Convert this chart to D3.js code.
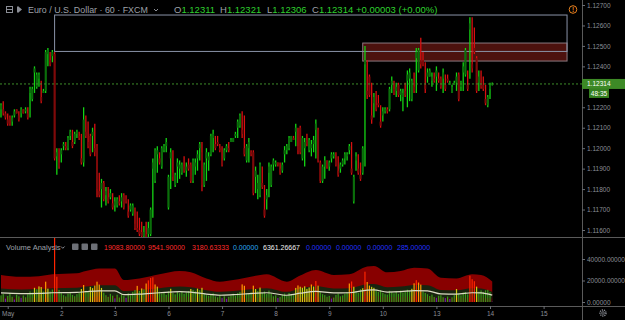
<!DOCTYPE html>
<html>
<head>
<meta charset="utf-8">
<script src="https://cdn.jsdelivr.net/npm/d3@7"></script>
<style>
html, body { margin: 0; padding: 0; background: #000; }
svg { display: block; font-family: "Liberation Sans", Arial, sans-serif; }
</style>
</head>
<body>
<div id="chart"></div>
<script>
// EUR/USD 60 min, FXCM - bars
var opens = [1.1219,1.1219,1.1217,1.1214,1.1215,1.1213,1.1216,1.1219,1.1216,1.1217,
1.1219,1.1218,1.1217,1.1227,1.1224,1.1237,1.1230,1.1234,1.1225,1.1227,
1.1228,1.1246,1.1243,1.1245,1.1246,1.1196,1.1193,1.1197,1.1201,1.1201,
1.1200,1.1206,1.1203,1.1203,1.1207,1.1206,1.1195,1.1193,1.1208,1.1203,
1.1206,1.1206,1.1200,1.1201,1.1179,1.1180,1.1183,1.1177,1.1176,1.1176,
1.1173,1.1172,1.1172,1.1174,1.1174,1.1177,1.1175,1.1169,1.1170,1.1168,
1.1163,1.1161,1.1160,1.1159,1.1157,1.1158,1.1158,1.1158,1.1190,1.1184,
1.1197,1.1195,1.1191,1.1199,1.1201,1.1171,1.1195,1.1188,1.1182,1.1191,
1.1190,1.1188,1.1191,1.1189,1.1192,1.1192,1.1184,1.1191,1.1195,1.1200,
1.1198,1.1182,1.1195,1.1194,1.1197,1.1205,1.1202,1.1203,1.1200,1.1194,
1.1195,1.1199,1.1200,1.1203,1.1203,1.1206,1.1210,1.1211,1.1209,1.1200,
1.1194,1.1200,1.1198,1.1198,1.1186,1.1180,1.1177,1.1183,1.1170,1.1175,
1.1188,1.1182,1.1192,1.1192,1.1193,1.1190,1.1189,1.1197,1.1199,1.1200,
1.1203,1.1205,1.1208,1.1201,1.1210,1.1195,1.1200,1.1204,1.1199,1.1200,
1.1202,1.1209,1.1209,1.1193,1.1184,1.1191,1.1194,1.1191,1.1195,1.1196,
1.1194,1.1189,1.1190,1.1192,1.1195,1.1196,1.1199,1.1190,1.1174,1.1194,
1.1190,1.1187,1.1188,1.1241,1.1228,1.1235,1.1216,1.1222,1.1221,1.1222,
1.1213,1.1216,1.1218,1.1219,1.1219,1.1231,1.1229,1.1228,1.1231,1.1226,
1.1225,1.1228,1.1233,1.1234,1.1224,1.1230,1.1244,1.1238,1.1243,1.1243,
1.1231,1.1235,1.1235,1.1233,1.1234,1.1235,1.1234,1.1234,1.1234,1.1231,
1.1234,1.1231,1.1227,1.1231,1.1232,1.1236,1.1230,1.1237,1.1236,1.1231,
1.1258,1.1241,1.1249,1.1244,1.1232,1.1232,1.1231,1.1224,1.1221,1.1229,
1.12311];

var highs = [1.1222,1.1223,1.1218,1.1217,1.1216,1.1216,1.1219,1.1219,1.1218,1.1220,
1.1219,1.1220,1.1220,1.1230,1.1230,1.1240,1.1237,1.1237,1.1233,1.1229,
1.1248,1.1249,1.1247,1.1248,1.1247,1.1200,1.1200,1.1200,1.1203,1.1203,
1.1206,1.1209,1.1209,1.1208,1.1209,1.1208,1.1207,1.1220,1.1216,1.1213,
1.1207,1.1210,1.1212,1.1202,1.1188,1.1185,1.1184,1.1181,1.1181,1.1180,
1.1178,1.1176,1.1176,1.1177,1.1178,1.1178,1.1177,1.1175,1.1173,1.1173,
1.1171,1.1169,1.1166,1.1164,1.1162,1.1164,1.1164,1.1171,1.1195,1.1200,
1.1201,1.1198,1.1201,1.1202,1.1205,1.1187,1.1200,1.1199,1.1188,1.1195,
1.1194,1.1193,1.1196,1.1193,1.1195,1.1193,1.1195,1.1195,1.1199,1.1203,
1.1203,1.1193,1.1200,1.1198,1.1207,1.1209,1.1206,1.1206,1.1202,1.1201,
1.1200,1.1202,1.1203,1.1205,1.1205,1.1208,1.1214,1.1217,1.1218,1.1216,
1.1202,1.1205,1.1199,1.1199,1.1191,1.1187,1.1193,1.1191,1.1182,1.1180,
1.1193,1.1192,1.1195,1.1194,1.1193,1.1193,1.1193,1.1201,1.1202,1.1206,
1.1206,1.1206,1.1212,1.1210,1.1211,1.1206,1.1205,1.1207,1.1205,1.1204,
1.1206,1.1214,1.1210,1.1194,1.1192,1.1196,1.1194,1.1194,1.1198,1.1198,
1.1198,1.1196,1.1193,1.1195,1.1198,1.1198,1.1202,1.1203,1.1187,1.1198,
1.1197,1.1193,1.1201,1.1250,1.1243,1.1236,1.1232,1.1227,1.1228,1.1226,
1.1221,1.1220,1.1220,1.1220,1.1230,1.1235,1.1233,1.1232,1.1232,1.1229,
1.1229,1.1232,1.1238,1.1239,1.1234,1.1237,1.1249,1.1249,1.1254,1.1247,
1.1242,1.1239,1.1239,1.1237,1.1237,1.1240,1.1237,1.1235,1.1239,1.1236,
1.1236,1.1233,1.1231,1.1233,1.1237,1.1237,1.1233,1.1242,1.1249,1.1238,
1.1264,1.1264,1.1259,1.1245,1.1238,1.1238,1.1235,1.1231,1.1226,1.1232,
1.12321];

var lows = [1.1215,1.1216,1.1214,1.1211,1.1211,1.1211,1.1215,1.1217,1.1213,1.1215,
1.1217,1.1217,1.1214,1.1215,1.1223,1.1227,1.1229,1.1230,1.1222,1.1227,
1.1227,1.1240,1.1240,1.1242,1.1194,1.1187,1.1190,1.1193,1.1199,1.1199,
1.1199,1.1204,1.1200,1.1202,1.1205,1.1204,1.1192,1.1191,1.1205,1.1200,
1.1196,1.1198,1.1196,1.1176,1.1176,1.1171,1.1174,1.1172,1.1173,1.1175,
1.1170,1.1169,1.1171,1.1172,1.1171,1.1170,1.1173,1.1166,1.1169,1.1167,
1.1160,1.1159,1.1157,1.1156,1.1155,1.1155,1.1156,1.1157,1.1166,1.1183,
1.1188,1.1192,1.1190,1.1198,1.1198,1.1170,1.1180,1.1184,1.1181,1.1183,
1.1185,1.1187,1.1188,1.1186,1.1189,1.1183,1.1183,1.1187,1.1189,1.1194,
1.1179,1.1181,1.1184,1.1189,1.1196,1.1198,1.1199,1.1201,1.1198,1.1191,
1.1194,1.1198,1.1198,1.1203,1.1203,1.1205,1.1205,1.1210,1.1205,1.1196,
1.1193,1.1193,1.1196,1.1177,1.1178,1.1175,1.1176,1.1180,1.1166,1.1170,
1.1176,1.1181,1.1189,1.1191,1.1191,1.1187,1.1188,1.1193,1.1197,1.1199,
1.1203,1.1204,1.1201,1.1197,1.1197,1.1194,1.1191,1.1201,1.1198,1.1196,
1.1198,1.1195,1.1193,1.1183,1.1183,1.1185,1.1190,1.1189,1.1193,1.1195,
1.1191,1.1186,1.1188,1.1191,1.1192,1.1194,1.1197,1.1187,1.1173,1.1189,
1.1187,1.1184,1.1187,1.1191,1.1224,1.1225,1.1212,1.1215,1.1218,1.1220,
1.1210,1.1213,1.1217,1.1217,1.1218,1.1227,1.1226,1.1225,1.1225,1.1223,
1.1218,1.1225,1.1220,1.1223,1.1223,1.1227,1.1227,1.1237,1.1239,1.1240,
1.1227,1.1232,1.1235,1.1230,1.1232,1.1228,1.1232,1.1229,1.1227,1.1228,
1.1232,1.1231,1.1227,1.1231,1.1228,1.1223,1.1228,1.1228,1.1235,1.1228,
1.1234,1.1237,1.1246,1.1227,1.1228,1.1229,1.1228,1.1221,1.1220,1.1224,
1.12306];

var closes = [1.1221,1.1217,1.1215,1.1212,1.1212,1.1215,1.1218,1.1217,1.1214,1.1219,
1.1217,1.1219,1.1215,1.1229,1.1229,1.1239,1.1236,1.1236,1.1223,1.1228,
1.1247,1.1248,1.1241,1.1247,1.1195,1.1198,1.1191,1.1199,1.1202,1.1200,
1.1205,1.1208,1.1201,1.1207,1.1208,1.1205,1.1193,1.1214,1.1206,1.1201,
1.1197,1.1208,1.1198,1.1180,1.1177,1.1183,1.1175,1.1179,1.1174,1.1178,
1.1171,1.1174,1.1175,1.1173,1.1176,1.1171,1.1174,1.1167,1.1172,1.1172,
1.1161,1.1160,1.1158,1.1157,1.1159,1.1156,1.1161,1.1170,1.1193,1.1199,
1.1199,1.1193,1.1200,1.1201,1.1203,1.1186,1.1198,1.1186,1.1187,1.1193,
1.1192,1.1192,1.1189,1.1191,1.1190,1.1184,1.1194,1.1193,1.1197,1.1202,
1.1182,1.1192,1.1198,1.1196,1.1206,1.1207,1.1200,1.1202,1.1199,1.1192,
1.1199,1.1201,1.1199,1.1204,1.1205,1.1207,1.1213,1.1216,1.1207,1.1197,
1.1201,1.1203,1.1197,1.1178,1.1189,1.1183,1.1192,1.1181,1.1167,1.1177,
1.1191,1.1191,1.1194,1.1193,1.1192,1.1188,1.1192,1.1199,1.1201,1.1205,
1.1206,1.1204,1.1210,1.1199,1.1198,1.1205,1.1203,1.1202,1.1204,1.1202,
1.1204,1.1212,1.1194,1.1184,1.1191,1.1194,1.1191,1.1193,1.1197,1.1197,
1.1192,1.1187,1.1192,1.1194,1.1197,1.1197,1.1201,1.1188,1.1186,1.1196,
1.1188,1.1185,1.1200,1.1243,1.1226,1.1226,1.1214,1.1225,1.1219,1.1221,
1.1211,1.1218,1.1219,1.1218,1.1229,1.1233,1.1227,1.1230,1.1226,1.1228,
1.1227,1.1226,1.1236,1.1237,1.1233,1.1228,1.1247,1.1248,1.1241,1.1241,
1.1229,1.1237,1.1238,1.1235,1.1233,1.1238,1.1233,1.1230,1.1237,1.1229,
1.1233,1.1232,1.1230,1.1232,1.1235,1.1224,1.1232,1.1240,1.1248,1.1229,
1.1261,1.1239,1.1247,1.1228,1.1235,1.1230,1.1229,1.1222,1.1225,1.1231,
1.12314];

var volumes = [6200,7400,3100,5600,8200,4900,2300,6800,5300,3800,
6100,4400,7200,9800,8600,13200,11800,14500,13900,9700,
18900,12400,9800,11600,60000,23500,11200,8300,6400,5200,
7800,9100,6600,5400,7300,8800,12100,15800,10400,9200,
14100,12900,15300,18900,16200,13100,8700,6300,4800,7600,
5900,3400,6800,4200,7100,5600,3900,8100,6200,9400,
11200,15000,10300,12600,11900,17200,20100,22400,23000,16300,
14300,9600,7800,8900,6700,9900,12300,8400,7100,9300,
8200,9700,7600,8800,10200,12100,11300,10100,12400,11000,
13200,7900,6300,5800,7400,8100,5200,4300,6900,3600,
5400,2900,4800,6100,7700,5900,8300,9400,16400,15100,
8200,7600,8900,15200,12100,10200,13400,8600,9800,7400,
10600,8100,5300,6200,3700,4600,6900,7800,5600,8400,
7100,6400,13100,15400,14200,13300,14600,12200,13500,16300,
14400,19500,15200,9100,7300,6400,4900,5700,3200,4100,
6600,7900,5300,6100,7700,9300,17200,19100,14200,10300,
8600,11900,12800,28200,18600,15300,14100,13200,10800,9400,
11100,8600,7300,6900,10400,9200,8100,9900,7600,10700,
8900,9600,11400,10200,12300,17400,20300,18100,16200,9800,
8400,7200,5600,6900,4700,3900,5800,6300,4400,3600,
5100,2800,4300,6400,12100,7800,6200,8700,9300,7100,
24500,21200,19300,14300,9600,10800,9400,10900,11300,9100,
285];

// Volume Analysis average, read at these bar indices
var avgIdx = [0,9,17,23,34,38,44,51,55,62,71,80,85,92,98,104,113,119,128,134,141,149,156,164,167,173,179,185,191,197,204,211,215,220];
var avgVol = [8400,7800,8000,8600,8900,9600,10400,10400,6800,7300,8600,9600,9200,7300,6300,6800,8000,8600,6300,8200,9900,8400,8600,11000,11200,9200,9600,10600,10400,7500,7300,8600,8400,6361];
var bandMult = [3, 1.5, 0.5];
var volLevels = [4000, 12000, 15000, 19000];

var dayTicks = [3,27,51,75,99,123,147,171,195,219,243];
var dayLabels = ['May','2','3','6','7','8','9','10','13','14','15'];
var priceTicks = [1.116,1.117,1.118,1.119,1.120,1.121,1.122,1.123,1.124,1.125,1.126,1.127];
var volTicks = [0, 20000, 40000];

// rectangles drawn on the chart
var boxTop = [1.12651, 1.12514];
var boxBottom = [1.12473, 1.12426];
var boxStart = [24, 162];
var boxEnd = [253.5, 253.5];

var lastPrice = 1.12314;
var countdown = '48:35';
var headerVals = ['1.12311','1.12321','1.12306','1.12314'];
var headerChange = '+0.00003 (+0.00%)';
var indVals = ['19083.80000','9541.90000','3180.63333','0.00000','6361.26667','0.00000','0.00000','0.00000','285.00000'];

var width = 625, height = 320;
var plotW = 582, paneBottom = 237, volTop = 238, volBottom = 306;
var gray = '#8b8e96';

var svg = d3.select('#chart').append('svg')
    .attr('width', width)
    .attr('height', height)
    .style('background', '#000');

var x = d3.scaleLinear().domain([-0.45, 260.2]).range([0, plotW]);
var yP = d3.scaleLinear().domain([1.116, 1.127]).range([230, 5]);
var yV = d3.scaleLinear().domain([0, 40000]).range([302, 259]);

var defs = svg.append('defs');
defs.append('clipPath').attr('id', 'clipPrice')
    .append('rect').attr('x', 0).attr('y', 0).attr('width', plotW).attr('height', paneBottom);
defs.append('clipPath').attr('id', 'clipVol')
    .append('rect').attr('x', 0).attr('y', volTop).attr('width', plotW).attr('height', volBottom - volTop);

var bars = d3.range(opens.length).map(function (i) {
    return { i: i, o: opens[i], h: highs[i], l: lows[i], c: closes[i], v: volumes[i] };
});

// ---- price pane
var pg = svg.append('g').attr('clip-path', 'url(#clipPrice)');

// zones
pg.append('rect')
    .attr('x', x(boxStart[1])).attr('y', yP(boxTop[1]))
    .attr('width', x(boxEnd[1]) - x(boxStart[1]))
    .attr('height', yP(boxBottom[1]) - yP(boxTop[1]))
    .attr('fill', '#5a1510').attr('fill-opacity', 0.85)
    .attr('stroke', '#8c7a80').attr('stroke-width', 1);

pg.append('rect')
    .attr('x', x(boxStart[0])).attr('y', yP(boxTop[0]))
    .attr('width', x(boxEnd[0]) - x(boxStart[0]))
    .attr('height', yP(boxBottom[0]) - yP(boxTop[0]))
    .attr('fill', 'none')
    .attr('stroke', '#8a93a8').attr('stroke-width', 1);

// wicks then bodies
pg.append('g').selectAll('line')
    .data(bars)
    .enter()
    .append('line')
    .attr('x1', d => x(d.i)).attr('x2', d => x(d.i))
    .attr('y1', d => yP(d.h)).attr('y2', d => yP(d.l))
    .attr('stroke', d => d.c >= d.o ? '#14d414' : '#d81010')
    .attr('stroke-width', 1.3);

pg.append('g').selectAll('rect')
    .data(bars)
    .enter()
    .append('rect')
    .attr('x', d => x(d.i) - 1)
    .attr('width', 2)
    .attr('y', d => yP(Math.max(d.o, d.c)))
    .attr('height', d => Math.max(1, Math.abs(yP(d.o) - yP(d.c))))
    .attr('fill', d => d.c >= d.o ? '#0b6e0b' : '#7e0a0a');

// last price line
svg.append('line')
    .attr('x1', 0).attr('x2', plotW)
    .attr('y1', yP(lastPrice)).attr('y2', yP(lastPrice))
    .attr('stroke', '#3e8e2a').attr('stroke-dasharray', '2,2');

// ---- volume pane
var vg = svg.append('g').attr('clip-path', 'url(#clipVol)');
var avgPts = avgIdx.map((d, k) => ({ i: d, v: avgVol[k] }));
var bandFill = ['#880000', '#19240f', '#3c0c0a'];

bandMult.forEach(function (m, k) {
    var area = d3.area()
        .x(d => x(d.i))
        .y0(yV(0))
        .y1(d => yV(d.v * m))
        .curve(d3.curveMonotoneX);
    vg.append('path').datum(avgPts).attr('d', area).attr('fill', bandFill[k]);
});

function volColor(v) {
    if (v < volLevels[0]) return '#5b2aa8';
    if (v < volLevels[1]) return '#3a9618';
    if (v < volLevels[2]) return '#cfcf10';
    if (v < volLevels[3]) return '#ff9a00';
    return '#ff2400';
}

vg.append('g').selectAll('rect')
    .data(bars)
    .enter()
    .append('rect')
    .attr('x', d => x(d.i) - 0.6)
    .attr('width', 1.2)
    .attr('y', d => yV(d.v))
    .attr('height', d => yV(0) - yV(d.v))
    .attr('fill', d => volColor(d.v));

vg.append('path').datum(avgPts)
    .attr('d', d3.line().x(d => x(d.i)).y(d => yV(d.v)).curve(d3.curveMonotoneX))
    .attr('fill', 'none').attr('stroke', '#dcdcc4').attr('stroke-width', 1.2);

// ---- separators
svg.append('line').attr('x1', plotW + 0.5).attr('x2', plotW + 0.5).attr('y1', 0).attr('y2', height)
    .attr('stroke', '#5a5a5a');
svg.append('line').attr('x1', 0).attr('x2', width).attr('y1', paneBottom + 0.5).attr('y2', paneBottom + 0.5)
    .attr('stroke', '#5a5a5a');
svg.append('line').attr('x1', 0).attr('x2', width).attr('y1', volBottom + 0.5).attr('y2', volBottom + 0.5)
    .attr('stroke', '#5a5a5a');

// ---- axes
function styleAxis(g) {
    g.select('.domain').remove();
    g.selectAll('line').attr('stroke', '#6a6d74');
    g.selectAll('text').attr('fill', gray).style('font-size', '6.5px');
}

var yLast = yP(lastPrice);
svg.append('g')
    .attr('transform', `translate(${plotW},0)`)
    .call(d3.axisRight(yP)
        .tickValues(priceTicks.filter(p => Math.abs(yP(p) - yLast) > 7))
        .tickSize(3).tickPadding(2)
        .tickFormat(d3.format('.5f')))
    .call(styleAxis);

svg.append('g')
    .attr('transform', `translate(${plotW},0)`)
    .call(d3.axisRight(yV).tickValues(volTicks).tickSize(3).tickPadding(2).tickFormat(d3.format('.5f')))
    .call(styleAxis);

svg.append('g')
    .attr('transform', `translate(0,${volBottom})`)
    .call(d3.axisBottom(x).tickValues(dayTicks).tickSize(3).tickPadding(2)
        .tickFormat((d, k) => dayLabels[k]))
    .call(styleAxis);

// price label + countdown
svg.append('rect').attr('x', plotW).attr('y', yLast - 5).attr('width', width - plotW).attr('height', 10)
    .attr('fill', '#3d8a26');
svg.append('text').attr('x', plotW + 5).attr('y', yLast + 2.3).text(lastPrice.toFixed(5))
    .attr('fill', '#fff').style('font-size', '6.5px');
svg.append('rect').attr('x', plotW + 7).attr('y', yLast + 5).attr('width', 20).attr('height', 9)
    .attr('fill', '#35801f');
svg.append('text').attr('x', plotW + 17).attr('y', yLast + 11.8).attr('text-anchor', 'middle').text(countdown)
    .attr('fill', '#fff').style('font-size', '6.5px');

// gear
svg.append('circle').attr('cx', 603).attr('cy', 313).attr('r', 3).attr('fill', 'none')
    .attr('stroke', gray).attr('stroke-width', 1.4).attr('stroke-dasharray', '1.2,0.9');
svg.append('circle').attr('cx', 603).attr('cy', 313).attr('r', 1.3).attr('fill', 'none')
    .attr('stroke', gray).attr('stroke-width', 0.8);

// ---- header
var hdr = svg.append('g').style('font-size', '9.5px');
hdr.append('rect').attr('x', 6.5).attr('y', 6.5).attr('width', 6).attr('height', 6)
    .attr('fill', 'none').attr('stroke', gray);
hdr.append('line').attr('x1', 6.5).attr('x2', 12.5).attr('y1', 9.5).attr('y2', 9.5).attr('stroke', gray);
hdr.append('path').attr('d', 'M17,6.5 h2 v6 h-2 z M19,7 l3,2.5 l-3,2.5 z').attr('fill', gray);
hdr.append('text').attr('x', 28).attr('y', 13).attr('fill', '#9ea1a9').style('font-size', '8.9px')
    .text('Euro / U.S. Dollar · 60 · FXCM');
hdr.append('path').attr('d', 'M154,9 l2,2 l2,-2').attr('fill', 'none').attr('stroke', gray);

var ohlcX = [174, 220, 267, 312];
['O', 'H', 'L', 'C'].forEach(function (lab, k) {
    var t = hdr.append('text').attr('x', ohlcX[k]).attr('y', 13);
    t.append('tspan').attr('fill', '#9ea1a9').text(lab);
    t.append('tspan').attr('fill', '#2fd12f').text(headerVals[k]);
});
hdr.append('text').attr('x', 356).attr('y', 13).attr('fill', '#2fd12f').text(headerChange);

svg.append('circle').attr('cx', 573).attr('cy', 9.5).attr('r', 3.8)
    .attr('fill', 'none').attr('stroke', '#e8821e').attr('stroke-width', 1);
svg.append('text').attr('x', 573).attr('y', 12).attr('text-anchor', 'middle')
    .attr('fill', '#e8821e').style('font-size', '6.5px').style('font-weight', 'bold').text('!');

// ---- indicator header
var ind = svg.append('g').style('font-size', '7px');
ind.append('text').attr('x', 6).attr('y', 249.5).attr('fill', '#9ea1a9').style('font-size', '7.5px')
    .text('Volume Analysis');
ind.append('path').attr('d', 'M61,246.5 l1.8,1.8 l1.8,-1.8').attr('fill', 'none').attr('stroke', gray);
[72, 81.5, 91].forEach(function (bx) {
    ind.append('rect').attr('x', bx).attr('y', 243.5).attr('width', 6.5).attr('height', 6.5)
        .attr('rx', 1).attr('fill', '#6d7077');
});
var indX = [104, 148, 192, 233, 263, 306, 336, 367, 397];
var indColor = ['#ff2b2b', '#ff2b2b', '#ff2b2b', '#29a9f0', '#f0f0f0', '#2233ff', '#2233ff', '#2233ff', '#2233ff'];
indVals.forEach(function (v, k) {
    ind.append('text').attr('x', indX[k]).attr('y', 249.5).attr('fill', indColor[k]).text(v);
});
</script>
</body>
</html>
